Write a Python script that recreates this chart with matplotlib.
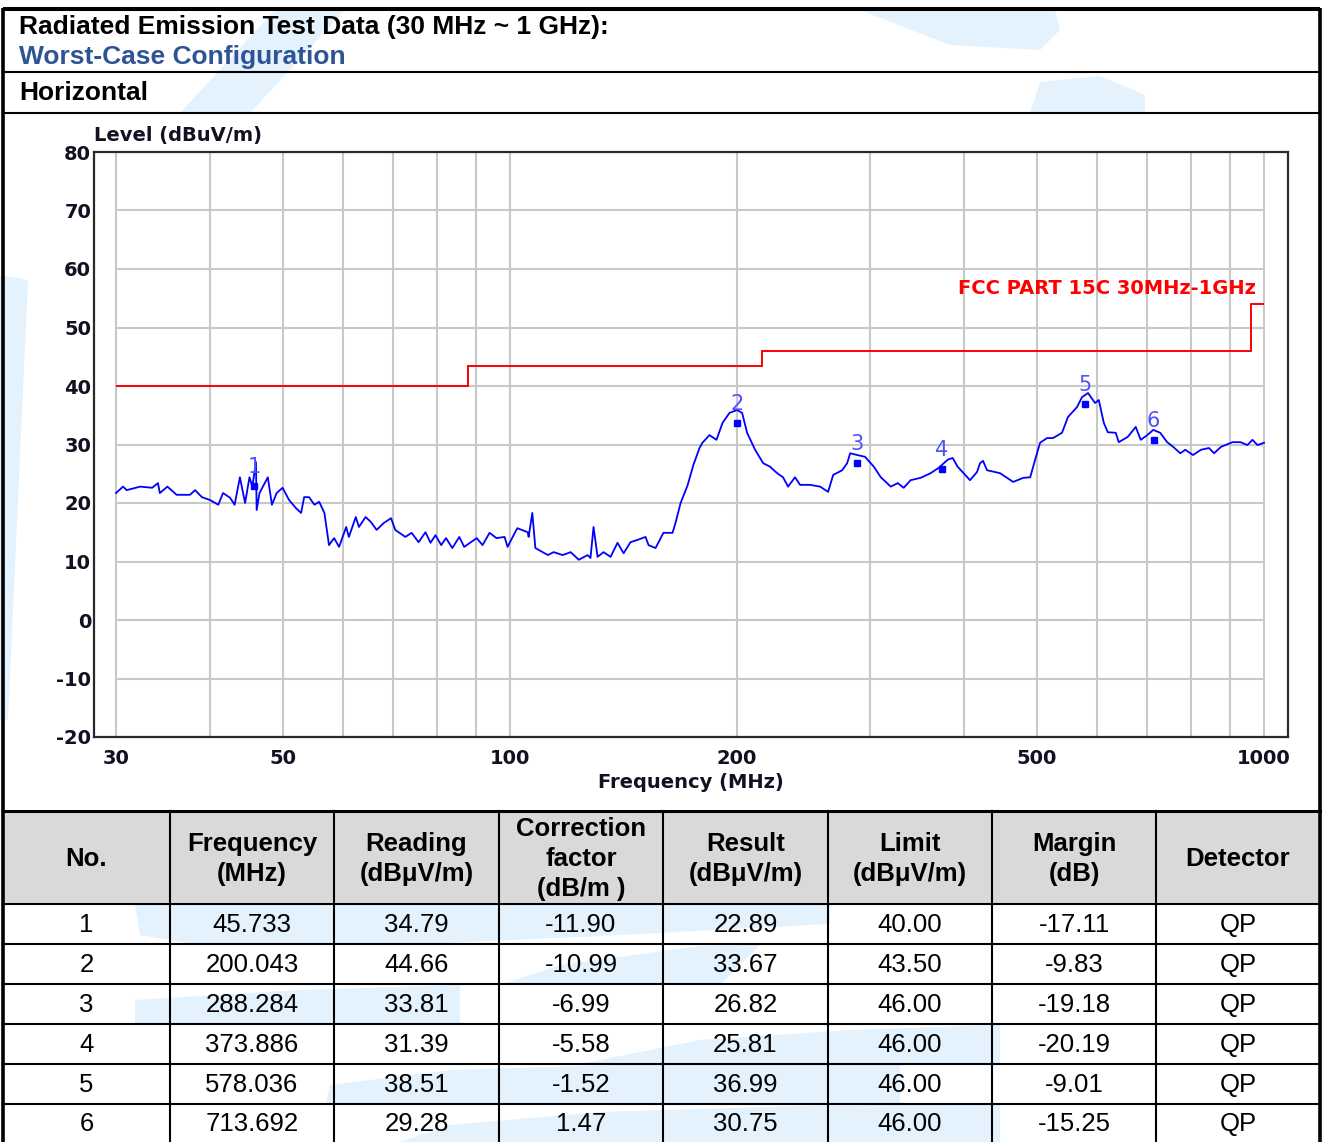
import matplotlib
matplotlib.use("Agg")
import matplotlib.pyplot as plt
from matplotlib.patches import Rectangle, Polygon

# ---------------- data ----------------
trace_freq = [30.0, 30.65, 31.0, 32.3, 33.5, 34.1, 34.3, 35.1, 36.1, 37.6, 38.2, 39.0,
              40.0, 41.0, 41.6, 42.5, 43.1, 43.8, 44.5, 45.1, 45.5, 46.0, 46.1, 46.5,
              47.7, 48.3, 49.0, 49.9, 50.9, 52.0, 52.8, 53.3, 54.1, 55.0, 55.8, 56.7,
              57.5, 58.4, 59.3, 60.6, 61.1, 62.4, 63.0, 64.3, 65.3, 66.5, 68.0, 69.5,
              70.4, 72.6, 74.0, 75.6, 77.2, 78.4, 79.6, 81.0, 82.2, 83.8, 85.6, 86.9,
              90.3, 91.9, 93.9, 95.9, 98.3, 99.2, 102.2, 105.5, 105.8, 107.0, 108.0,
              112.2, 114.2, 117.4, 120.3, 123.3, 126.7, 127.8, 129.0, 130.6, 133.0,
              135.9, 138.8, 141.4, 144.4, 147.6, 151.2, 152.6, 155.9, 159.7, 164.2,
              165.7, 168.3, 171.9, 175.0, 178.3, 179.9, 183.8, 187.8, 191.3, 195.4,
              200.0, 203.1, 206.2, 211.3, 216.6, 221.2, 226.0, 230.1, 233.7, 238.7,
              242.4, 249.9, 257.7, 264.1, 268.2, 275.7, 279.9, 282.5, 288.6, 295.6,
              303.7, 310.2, 319.8, 326.7, 332.7, 339.8, 350.3, 361.2, 370.1, 380.5,
              386.3, 392.3, 399.5, 407.4, 416.2, 420.0, 423.9, 429.1, 446.5, 464.8,
              479.2, 489.6, 497.0, 504.6, 515.5, 525.0, 539.5, 549.5, 564.9, 573.6,
              584.2, 596.8, 603.7, 613.0, 620.5, 635.8, 641.6, 659.5, 675.8, 686.2,
              700.0, 713.0, 728.3, 743.9, 757.7, 774.3, 786.2, 804.9, 824.8, 845.3,
              858.4, 877.0, 908.3, 930.6, 950.6, 965.3, 980.3, 1000.0]
trace_level = [21.7, 22.8, 22.2, 22.8, 22.6, 23.4, 21.7, 22.8, 21.4, 21.4, 22.2, 21.0,
               20.5, 19.7, 21.7, 20.9, 19.7, 24.4, 20.0, 24.4, 22.8, 27.0, 18.8, 21.7,
               24.4, 19.7, 21.7, 22.6, 20.5, 19.1, 18.3, 21.0, 21.0, 19.7, 20.2, 18.3,
               12.8, 14.0, 12.5, 15.9, 14.2, 17.6, 15.9, 17.6, 16.8, 15.4, 16.6, 17.4,
               15.4, 14.2, 14.9, 13.3, 15.0, 13.2, 14.5, 12.8, 14.0, 12.3, 14.2, 12.5,
               14.0, 12.8, 14.9, 14.0, 14.2, 12.5, 15.7, 15.0, 14.2, 18.3, 12.3,
               11.1, 11.6, 11.1, 11.6, 10.3, 11.1, 10.6, 15.9, 10.8, 11.6,
               10.8, 13.2, 11.4, 13.3, 13.7, 14.2, 12.8, 12.3, 14.9, 14.9,
               16.6, 20.0, 23.0, 26.5, 29.4, 30.3, 31.6, 30.8, 33.7, 35.4,
               35.9, 35.4, 32.0, 29.1, 26.8, 26.2, 25.1, 24.4, 22.8, 24.4,
               23.1, 23.1, 22.8, 21.9, 24.8, 25.6, 26.8, 28.5, 28.2, 27.9,
               26.2, 24.4, 22.8, 23.4, 22.6, 23.9, 24.3, 25.1, 26.0, 27.4,
               27.7, 26.2, 25.1, 23.9, 25.3, 26.8, 27.2, 25.6, 25.1, 23.6,
               24.3, 24.4, 27.4, 30.3, 31.1, 31.1, 32.0, 34.7, 36.4, 38.1,
               38.8, 37.1, 37.6, 33.7, 32.1, 32.0, 30.4, 31.3, 33.0, 30.8,
               31.6, 32.5, 32.0, 30.4, 29.6, 28.5, 29.1, 28.2, 29.1, 29.4,
               28.5, 29.6, 30.4, 30.4, 29.9, 30.8, 29.9, 30.3]

limit_edges = [30, 88, 216, 960, 1000]
limit_values = [40.0, 43.5, 46.0, 54.0]
limit_name = "FCC PART 15C 30MHz-1GHz"

peak_no = [1, 2, 3, 4, 5, 6]
peak_freq = [45.733, 200.043, 288.284, 373.886, 578.036, 713.692]
peak_reading = [34.79, 44.66, 33.81, 31.39, 38.51, 29.28]
peak_corr = [-11.90, -10.99, -6.99, -5.58, -1.52, 1.47]
peak_result = [22.89, 33.67, 26.82, 25.81, 36.99, 30.75]
peak_limit = [40.00, 43.50, 46.00, 46.00, 46.00, 46.00]
peak_margin = [-17.11, -9.83, -19.18, -20.19, -9.01, -15.25]
peak_detector = ["QP", "QP", "QP", "QP", "QP", "QP"]

x_ticks = [30, 50, 100, 200, 500, 1000]
x_grid = [30, 40, 50, 60, 70, 80, 90, 100, 200, 300, 400, 500, 600, 700, 800, 900, 1000]
y_ticks = [-20, -10, 0, 10, 20, 30, 40, 50, 60, 70, 80]

col_headers = ["No.", "Frequency\n(MHz)", "Reading\n(dB\u03bcV/m)", "Correction\nfactor\n(dB/m )",
               "Result\n(dB\u03bcV/m)", "Limit\n(dB\u03bcV/m)", "Margin\n(dB)", "Detector"]

# ---------------- figure ----------------
W, H = 1323, 1142
fig = plt.figure(figsize=(W / 100, H / 100), dpi=100)
fig.patch.set_facecolor("white")

ov = fig.add_axes([0, 0, 1, 1], zorder=0)
ov.set_xlim(0, W)
ov.set_ylim(H, 0)
ov.axis("off")

TF = "Liberation Sans"
CF = "DejaVu Sans"

# faint background watermark shapes
wm = "#e4f2fd"
wm_shapes = [
    [(0, 275), (28, 280), (18, 500), (8, 720), (0, 720)],
    [(180, 113), (250, 113), (345, 10), (275, 10)],
    [(860, 10), (1055, 10), (1060, 30), (1040, 50), (950, 45)],
    [(1030, 113), (1145, 113), (1145, 95), (1100, 76), (1040, 82)],
    [(135, 905), (830, 905), (830, 924), (600, 936), (400, 945), (200, 945), (140, 935)],
    [(500, 985), (560, 965), (700, 946), (760, 945), (720, 985)],
    [(135, 1000), (300, 990), (460, 985), (460, 1024), (135, 1024)],
    [(580, 1064), (700, 1040), (850, 1030), (1000, 1025), (1000, 1064)],
    [(326, 1104), (330, 1085), (450, 1070), (650, 1064), (900, 1064), (900, 1104)],
    [(400, 1142), (450, 1125), (600, 1112), (800, 1106), (1000, 1104), (1000, 1142)],
]
for pts in wm_shapes:
    ov.add_patch(Polygon(pts, closed=True, facecolor=wm, edgecolor="none", zorder=0))

# header texts
ov.text(19, 27, "Radiated Emission Test Data (30 MHz ~ 1 GHz):", family=TF, fontsize=19,
        fontweight="bold", va="center", ha="left", color="black")
ov.text(19, 57, "Worst-Case Configuration", family=TF, fontsize=19,
        fontweight="bold", va="center", ha="left", color="#2E5496")
ov.text(19, 93, "Horizontal", family=TF, fontsize=19,
        fontweight="bold", va="center", ha="left", color="black")

# table header fill
ov.add_patch(Rectangle((3, 811), 1317, 93, facecolor="#d9d9d9", edgecolor="none", zorder=1))

# frame lines
lc = "black"
ov.plot([3, 3], [8, H], color=lc, lw=2.6, solid_capstyle="butt")
ov.plot([1320, 1320], [8, H], color=lc, lw=2.6, solid_capstyle="butt")
ov.plot([3, 1320], [9, 9], color=lc, lw=2.9, solid_capstyle="butt")
ov.plot([3, 1320], [72, 72], color=lc, lw=1.5)
ov.plot([3, 1320], [113, 113], color=lc, lw=1.5)
ov.plot([3, 1320], [811, 811], color=lc, lw=2.2)
row_lines = [904, 944, 984, 1024, 1064, 1104]
for yy in row_lines:
    ov.plot([3, 1320], [yy, yy], color=lc, lw=1.5)
col_lines = [3, 170, 334, 499, 663, 828, 992, 1156, 1320]
for xx in col_lines[1:-1]:
    ov.plot([xx, xx], [811, H], color=lc, lw=1.5)

# table text
centers = [(col_lines[i] + col_lines[i + 1]) / 2 for i in range(8)]
for c, htxt in zip(centers, col_headers):
    ov.text(c, 859, htxt, family=TF, fontsize=18.5, fontweight="bold", ha="center",
            va="center", linespacing=1.3, multialignment="center")
for r in range(len(peak_no)):
    yc = (row_lines[r] + (row_lines[r + 1] if r + 1 < len(row_lines) else H)) / 2 + 1
    vals = [str(peak_no[r]), f"{peak_freq[r]:.3f}", f"{peak_reading[r]:.2f}",
            f"{peak_corr[r]:.2f}", f"{peak_result[r]:.2f}", f"{peak_limit[r]:.2f}",
            f"{peak_margin[r]:.2f}", peak_detector[r]]
    for c, v in zip(centers, vals):
        ov.text(c, yc, v, family=TF, fontsize=18.5, ha="center", va="center", color="black")

# ---------------- chart ----------------
ax = fig.add_axes([94 / W, 1 - 737 / H, (1288 - 94) / W, (737 - 152) / H], zorder=2)
ax.set_facecolor("white")
ax.set_xscale("log")
ax.set_xlim(28.05, 1076)
ax.set_ylim(-20, 80)

gc = "#c8c8c8"
ax.hlines(y_ticks, 30, 1000, colors=gc, lw=1.5, zorder=1)
ax.vlines(x_grid, -20, 80, colors=gc, lw=1.5, zorder=1)

ax.stairs(limit_values, limit_edges, baseline=None, color="#ff0000", lw=1.4, zorder=3)
ax.text(975, 56.6, limit_name, family=CF, fontsize=14, fontweight="bold",
        color="#ff0000", ha="right", va="center", zorder=4)

ax.plot(trace_freq, trace_level, color="#0000ff", lw=1.3, zorder=4)
ax.plot(peak_freq, peak_result, ls="none", marker="s", ms=5, color="#0000ff", zorder=5)
for n, f, v in zip(peak_no, peak_freq, peak_result):
    ax.annotate(str(n), (f, v), xytext=(0, 13.5), textcoords="offset points",
                ha="center", va="center", fontsize=15, color="#5050ff", family=CF, zorder=6)

ax.set_xticks(x_ticks)
ax.set_xticklabels([str(t) for t in x_ticks])
ax.xaxis.set_minor_locator(matplotlib.ticker.NullLocator())
ax.set_yticks(y_ticks)
ax.set_yticklabels([str(t) for t in y_ticks])
ax.tick_params(axis="both", length=0, labelsize=14, colors="#111122")
ax.tick_params(axis="x", pad=9)
ax.tick_params(axis="y", pad=2)
for lab in ax.get_xticklabels() + ax.get_yticklabels():
    lab.set_fontweight("bold")
    lab.set_family(CF)

ax.set_xlabel("Frequency (MHz)", family=CF, fontsize=14, fontweight="bold", color="#111122",
              va="center")
ax.xaxis.set_label_coords(0.5, (737 - 782) / 585)
ax.text(0.0, (152 - 135) / 585 + 1.0, "Level (dBuV/m)", transform=ax.transAxes, family=CF,
        fontsize=14, fontweight="bold", color="#111122", ha="left", va="center")

for s in ax.spines.values():
    s.set_color("#2a2a2a")
    s.set_linewidth(1.6)

fig.savefig("out.png", dpi=100, facecolor="white")
